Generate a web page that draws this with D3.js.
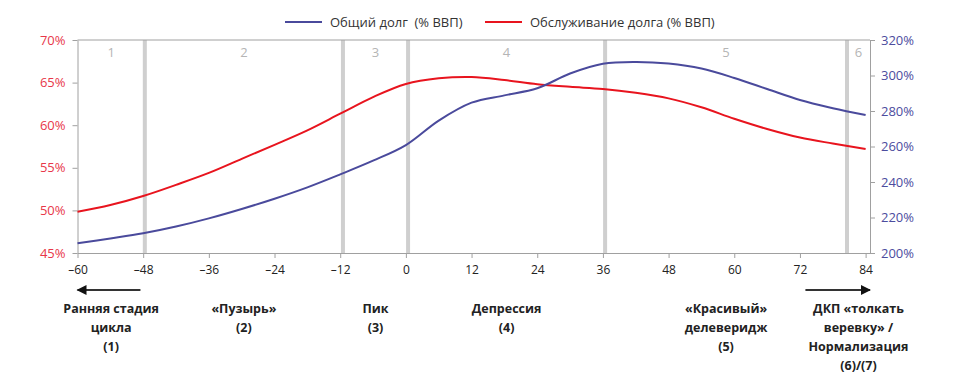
<!DOCTYPE html>
<html>
<head>
<meta charset="utf-8">
<script src="https://cdn.jsdelivr.net/npm/d3@7"></script>
<style>
  body { margin: 0; background: #fff; }
  svg text { font-family: "Open Sans", "Noto Sans", sans-serif; }
</style>
</head>
<body>
<div id="chart"></div>
<script>
// months relative to the peak
const months = [-60, -54, -48, -42, -36, -30, -24, -18, -12, -6, 0, 6, 12, 18, 24, 30, 36, 42, 48, 54, 60, 66, 72, 78, 84];
// total debt, % of GDP (right axis)
const totalDebt = [205.5, 208.2, 211.1, 214.9, 219.5, 224.8, 230.6, 237.0, 244.3, 252.0, 260.8, 274.6, 284.7, 288.8, 292.8, 301.1, 306.6, 307.6, 306.7, 303.9, 298.6, 292.4, 286.2, 281.6, 277.7];
// debt service, % of GDP (left axis)
const debtService = [49.85, 50.63, 51.69, 53.0, 54.4, 56.05, 57.7, 59.4, 61.35, 63.3, 64.84, 65.5, 65.66, 65.3, 64.8, 64.5, 64.25, 63.8, 63.15, 62.1, 60.75, 59.55, 58.55, 57.85, 57.21];

const xTicks = [-60, -48, -36, -24, -12, 0, 12, 24, 36, 48, 60, 72, 84];
const leftTicks = [45, 50, 55, 60, 65, 70];
const rightTicks = [200, 220, 240, 260, 280, 300, 320];

// borders between phases (grey bands)
const phaseBorders = [-47.7, -11.5, 0.4, 36.4, 80.6];
const phaseNumbers = ["1", "2", "3", "4", "5", "6"];
const phaseLabels = [
    ["Ранняя стадия", "цикла", "(1)"],
    ["«Пузырь»", "(2)"],
    ["Пик", "(3)"],
    ["Депрессия", "(4)"],
    ["«Красивый»", "делеверидж", "(5)"],
    ["ДКП «толкать", "веревку» /", "Нормализация", "(6)/(7)"]
];

const width = 963, height = 384;
const margin = { top: 40, right: 93, bottom: 131, left: 77.5 };

const svg = d3.select("#chart")
    .append("svg")
    .attr("width", width)
    .attr("height", height);

const x = d3.scaleLinear()
    .domain([-60, 84.8])
    .range([margin.left, width - margin.right]);

const yLeft = d3.scaleLinear()
    .domain([45, 70])
    .range([height - margin.bottom, margin.top]);

const yRight = d3.scaleLinear()
    .domain([200, 320])
    .range([height - margin.bottom, margin.top]);

const axisColor = "#a0a0a0";

// grey bands
svg.append("g")
    .selectAll("line")
    .data(phaseBorders)
    .join("line")
    .attr("x1", d => x(d))
    .attr("x2", d => x(d))
    .attr("y1", margin.top)
    .attr("y2", height - margin.bottom)
    .attr("stroke", "#cfcfcf")
    .attr("stroke-width", 4);

// phase numbers in the middle of each phase
const edges = [-60, ...phaseBorders, 84.8];
const centers = phaseNumbers.map((d, i) => (edges[i] + edges[i + 1]) / 2);

svg.append("g")
    .selectAll("text")
    .data(phaseNumbers)
    .join("text")
    .attr("x", (d, i) => x(centers[i]))
    .attr("y", 57)
    .attr("text-anchor", "middle")
    .style("font-size", "13px")
    .style("fill", "#b5b5b5")
    .text(d => d);

// top border
svg.append("line")
    .attr("x1", margin.left)
    .attr("x2", width - margin.right)
    .attr("y1", margin.top)
    .attr("y2", margin.top)
    .attr("stroke", axisColor);

// axes
const xAxis = svg.append("g")
    .attr("transform", `translate(0, ${height - margin.bottom})`)
    .call(d3.axisBottom(x).tickValues(xTicks).tickSize(5).tickSizeOuter(0)
        .tickFormat(d => d < 0 ? "–" + Math.abs(d) : d));

const leftAxis = svg.append("g")
    .attr("transform", `translate(${margin.left}, 0)`)
    .call(d3.axisLeft(yLeft).tickValues(leftTicks).tickSize(5).tickSizeOuter(0)
        .tickFormat(d => d + "%"));

const rightAxis = svg.append("g")
    .attr("transform", `translate(${width - margin.right}, 0)`)
    .call(d3.axisRight(yRight).tickValues(rightTicks).tickSize(5).tickSizeOuter(0)
        .tickFormat(d => d + "%"));

[xAxis, leftAxis, rightAxis].forEach(a => {
    a.select(".domain").attr("stroke", axisColor);
    a.selectAll(".tick line").attr("stroke", axisColor);
    a.selectAll("text").style("font-size", "13px").style("font-family", "\"Open Sans\", sans-serif");
});
xAxis.selectAll("text").attr("dy", "1.05em").style("fill", "#222").style("font-size", "12px");
leftAxis.selectAll("text").attr("x", -12).style("fill", "#e8374a");
rightAxis.selectAll("text").attr("x", 11).style("fill", "#4c4c9e");

// lines
const serviceLine = d3.line()
    .x((d, i) => x(months[i]))
    .y(d => yLeft(d))
    .curve(d3.curveCatmullRom.alpha(0.5));

const debtLine = d3.line()
    .x((d, i) => x(months[i]))
    .y(d => yRight(d))
    .curve(d3.curveCatmullRom.alpha(0.5));

svg.append("path")
    .datum(debtService)
    .attr("d", serviceLine)
    .attr("fill", "none")
    .attr("stroke", "#e8141e")
    .attr("stroke-width", 2);

svg.append("path")
    .datum(totalDebt)
    .attr("d", debtLine)
    .attr("fill", "none")
    .attr("stroke", "#4a4a9c")
    .attr("stroke-width", 2);

// legend
const legendItems = [
    { name: "Общий долг  (% ВВП)", color: "#4a4a9c", x: 285 },
    { name: "Обслуживание долга (% ВВП)", color: "#e8141e", x: 485 }
];
const legend = svg.append("g");
legend.selectAll("line")
    .data(legendItems)
    .join("line")
    .attr("x1", d => d.x)
    .attr("x2", d => d.x + 37)
    .attr("y1", 22)
    .attr("y2", 22)
    .attr("stroke", d => d.color)
    .attr("stroke-width", 2);
legend.selectAll("text")
    .data(legendItems)
    .join("text")
    .attr("x", d => d.x + 45)
    .attr("y", 26.5)
    .style("font-size", "13px")
    .style("fill", "#333")
    .style("white-space", "pre")
    .text(d => d.name);

// arrows
svg.append("defs").append("marker")
    .attr("id", "head")
    .attr("viewBox", "0 0 10 10")
    .attr("refX", 9)
    .attr("refY", 5)
    .attr("markerWidth", 6)
    .attr("markerHeight", 5)
    .attr("markerUnits", "strokeWidth")
    .attr("orient", "auto")
    .append("path")
    .attr("d", "M0,0 L10,5 L0,10 Z")
    .attr("fill", "#111");

const arrows = [[-48.5, -60], [73, 84.8]];
svg.append("g")
    .selectAll("line")
    .data(arrows)
    .join("line")
    .attr("x1", d => x(d[0]))
    .attr("x2", d => x(d[1]))
    .attr("y1", 290)
    .attr("y2", 290)
    .attr("stroke", "#333")
    .attr("stroke-width", 2)
    .attr("marker-end", "url(#head)");

// phase names below the axis
const labels = svg.append("g")
    .selectAll("text")
    .data(phaseLabels)
    .join("text")
    .attr("text-anchor", "middle")
    .attr("y", 313)
    .style("font-size", "12.5px")
    .style("font-weight", "bold")
    .style("fill", "#222");

labels.selectAll("tspan")
    .data((d, i) => d.map(t => ({ t, cx: x(centers[i]) })))
    .join("tspan")
    .attr("x", d => d.cx)
    .attr("dy", (d, i) => i === 0 ? 0 : 19)
    .text(d => d.t);
</script>
</body>
</html>
